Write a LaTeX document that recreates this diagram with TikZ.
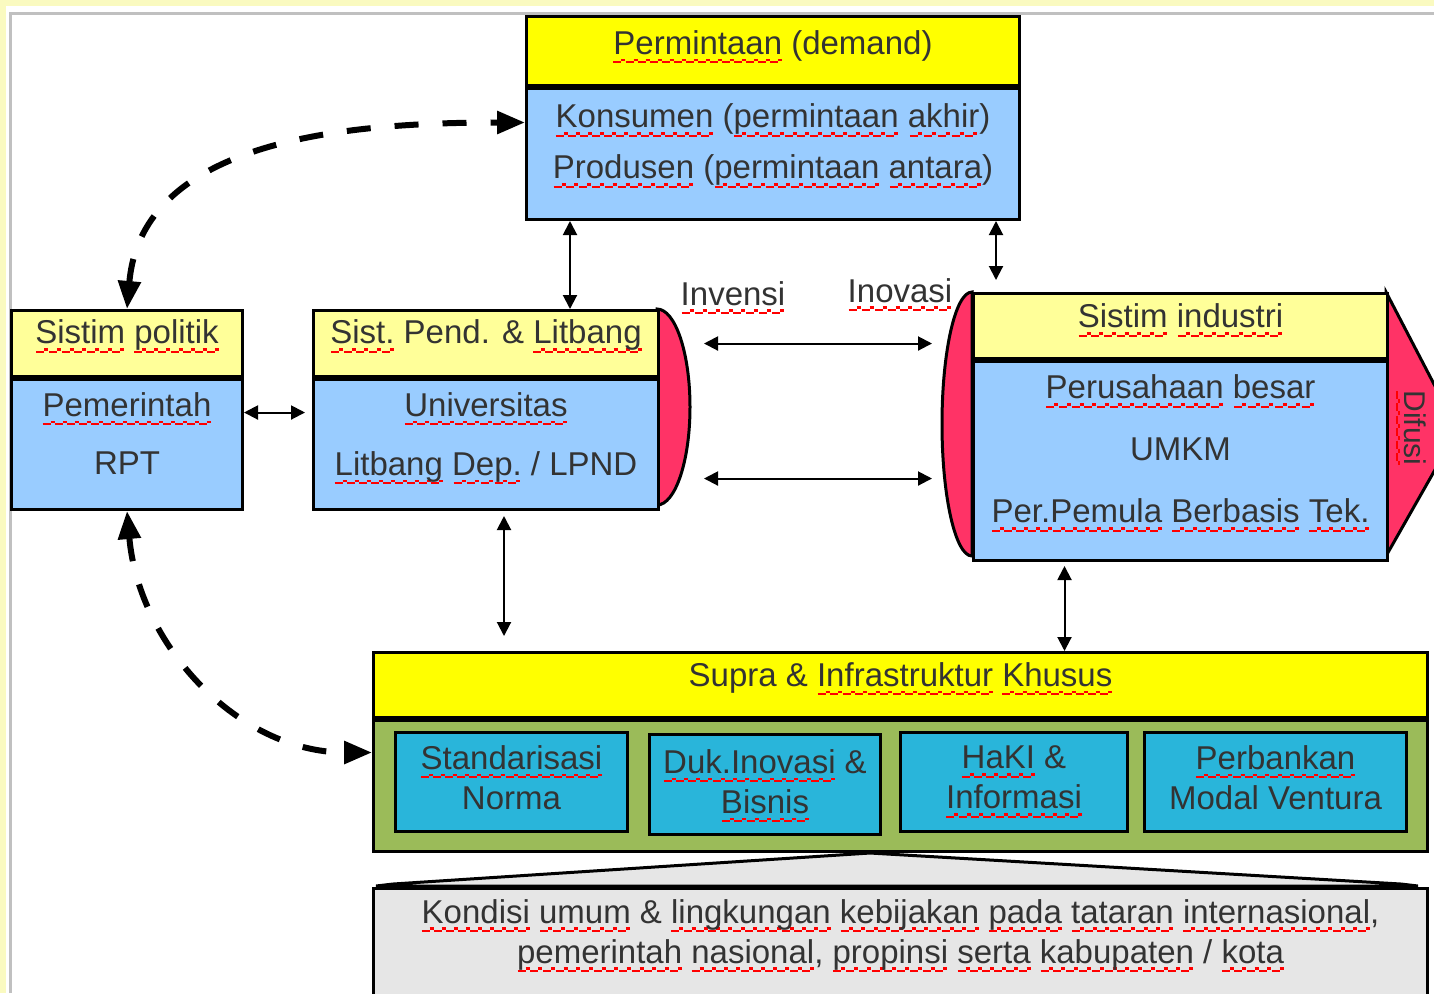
\documentclass[tikz,border=0pt]{standalone}
\usepackage{fontspec}
\setmainfont{Liberation Sans}
\usepackage{xcolor}
\usetikzlibrary{shapes,arrows.meta,positioning}

\definecolor{pageyellow}{HTML}{FAFAC0}
\definecolor{framegray}{HTML}{C0C0C0}
\definecolor{demandyellow}{HTML}{FFFF00}
\definecolor{headyellow}{HTML}{FFFF99}
\definecolor{boxblue}{HTML}{99CCFF}
\definecolor{capred}{HTML}{FF3366}
\definecolor{supragreen}{HTML}{9BBB59}
\definecolor{unitblue}{HTML}{29B5DA}
\definecolor{condgray}{HTML}{E6E6E6}
\definecolor{inkgray}{HTML}{333333}

% red wavy spell-check mark under a word
\newcommand\spellmark[1]{\setbox0\hbox{#1}\rlap{\hbox to \wd0{\color{red}\xleaders\hbox{\rule[-4.5pt]{4pt}{1.2pt}\rule[-3.4pt]{2pt}{1.2pt}}\hfil}}\box0\relax}

\begin{document}
\begin{tikzpicture}[
    x=0.5pt, y=-0.5pt,
    >={Triangle[length=7pt,width=7pt]},
    every node/.style={text=inkgray, font=\fontsize{16.5}{20}\selectfont},
    box/.style={draw, line width=1.5pt, rectangle, anchor=north west, inner sep=0pt, align=center, text depth=11pt},
    unit/.style={box, fill=unitblue, minimum height=49.5pt, text depth=4.5pt},
    link/.style={<->, line width=1pt},
    dashlink/.style={{Triangle[length=14pt,width=11pt]}-{Triangle[length=14pt,width=11pt]}, line width=3pt, dash pattern=on 12pt off 12pt}
]
    \useasboundingbox (0,0) rectangle (1434,993);
    \fill[pageyellow] (0,0) rectangle (1434,993);
    \fill[white] (6,6) rectangle (1434,993);
    \draw[framegray, line width=1.5pt] (10.5,993) -- (10.5,13.5) -- (1434,13.5);

    \node[box, fill=demandyellow, minimum width=246.5pt, minimum height=34.5pt, text depth=8.5pt] (demandhead) at (525,15) {\spellmark{Permintaan} (demand)};
    \node[box, fill=boxblue, minimum width=246.5pt, minimum height=65.5pt, text depth=12.5pt, font=\fontsize{16.5}{25.5}\selectfont] (demandbody) at (demandhead.south west) {\spellmark{Konsumen} (\spellmark{permintaan} \spellmark{akhir})\\\spellmark{Produsen} (\spellmark{permintaan} \spellmark{antara})};

    \node[box, fill=headyellow, minimum width=115.5pt, minimum height=33pt, text depth=11.5pt] (polhead) at (10,309) {\spellmark{Sistim} \spellmark{politik}};
    \node[box, fill=boxblue, minimum width=115.5pt, minimum height=65pt, font=\fontsize{16.5}{29}\selectfont] (polbody) at (polhead.south west) {\spellmark{Pemerintah}\\RPT};

    \filldraw[fill=capred, line width=1.5pt] (345+312,309) arc[start angle=90, end angle=-90, x radius=16.5pt, y radius=49pt] -- cycle;
    \node[box, fill=headyellow, minimum width=172.5pt, minimum height=33pt, text depth=11.5pt] (pendhead) at (312,309) {\spellmark{Sist.} Pend. \& \spellmark{Litbang}};
    \node[box, fill=boxblue, minimum width=172.5pt, minimum height=65pt, text depth=10.5pt, font=\fontsize{16.5}{29.5}\selectfont] (pendbody) at (pendhead.south west) {\spellmark{Universitas}\\\spellmark{Litbang} \spellmark{Dep.} / LPND};

    \filldraw[fill=capred, line width=1.5pt] (972,292) arc[start angle=90, end angle=270, x radius=15pt, y radius=66pt] -- cycle;
    \filldraw[fill=capred, line width=1.5pt] (1386,292) -- (1436,388) -- (1436,468) -- (1386,556) -- cycle;
    \node[box, fill=headyellow, minimum width=207pt, minimum height=32.5pt, text depth=10pt] (indhead) at (972,292) {\spellmark{Sistim} \spellmark{industri}};
    \node[box, fill=boxblue, minimum width=207pt, minimum height=99.5pt, text depth=12pt, font=\fontsize{16.5}{31}\selectfont] (indbody) at (indhead.south west) {\spellmark{Perusahaan} \spellmark{besar}\\UMKM\\\spellmark{Per.Pemula} \spellmark{Berbasis} \spellmark{Tek.}};
    \node[rotate=-90, font=\fontsize{15}{18}\selectfont] (difusi) at (1411,428) {\spellmark{Difusi}};

    \node[box, fill=demandyellow, minimum width=527pt, minimum height=32.5pt, text depth=10.5pt] (suprahead) at (372,651) {Supra \& \spellmark{Infrastruktur} \spellmark{Khusus}};
    \node[box, fill=supragreen, minimum width=527pt, minimum height=65.5pt] (suprabody) at (suprahead.south west) {};
    \node[unit, minimum width=116pt] (standar) at (394,731) {\spellmark{Standarisasi}\\Norma};
    \node[unit, minimum width=115.5pt, minimum height=50pt, text depth=3pt] (dukinov) at (648,733) {\spellmark{Duk.Inovasi} \&\\\spellmark{Bisnis}};
    \node[unit, minimum width=113.5pt] (haki) at (899,731) {\spellmark{HaKI} \&\\\spellmark{Informasi}};
    \node[unit, minimum width=131pt] (bank) at (1143,731) {\spellmark{Perbankan}\\Modal Ventura};

    \filldraw[fill=condgray, line width=1.5pt] (376,886) -- (393,884) -- (870,853) -- (1401,884) -- (1418,886) -- cycle;
    \node[box, fill=condgray, minimum width=527pt, minimum height=60pt] (cond) at (372,887) {};
    \node[below=2.5pt of cond.north, align=center] (condtext) {\spellmark{Kondisi} \spellmark{umum} \& \spellmark{lingkungan} \spellmark{kebijakan} \spellmark{pada} \spellmark{tataran} \spellmark{internasional},\\\spellmark{pemerintah} \spellmark{nasional}, \spellmark{propinsi} \spellmark{serta} \spellmark{kabupaten} / \spellmark{kota}};

    \node[anchor=base] (invensi) at (733,305) {\spellmark{Invensi}};
    \node[anchor=base] (inovasi) at (900,302) {\spellmark{Inovasi}};

    \draw[dashlink] (polhead.north) to[out=85, in=180] ([yshift=15.75pt]demandbody.west);
    \draw[dashlink] (polbody.south) to[out=-85, in=180] ([yshift=16.75pt]suprabody.west);
    \draw[link, shorten >=3.5pt] ([yshift=16pt]polbody.east) -- ([yshift=16pt]pendbody.west);
    \draw[link] ([xshift=129pt]pendhead.north west |- demandbody.south) -- ([xshift=129pt]pendhead.north west);
    \draw[link, shorten >=6pt] ([xshift=12pt]indhead.north west |- demandbody.south) -- ([xshift=12pt]indhead.north west);
    \draw[link, shorten <=2.5pt, shorten >=7.5pt] ([xshift=9pt]pendbody.south) -- ([xshift=9pt]pendbody.south |- suprahead.north);
    \draw[link, shorten <=2pt] ([xshift=-58pt]indbody.south) -- ([xshift=-58pt]indbody.south |- suprahead.north);
    \draw[link, shorten <=22pt, shorten >=20pt] (pendhead.east) -- (pendhead.east -| indbody.west);
    \draw[link, shorten <=22pt, shorten >=20pt] ([yshift=-17pt]pendbody.east) -- ([yshift=-17pt]pendbody.east -| indbody.west);
\end{tikzpicture}
\end{document}
